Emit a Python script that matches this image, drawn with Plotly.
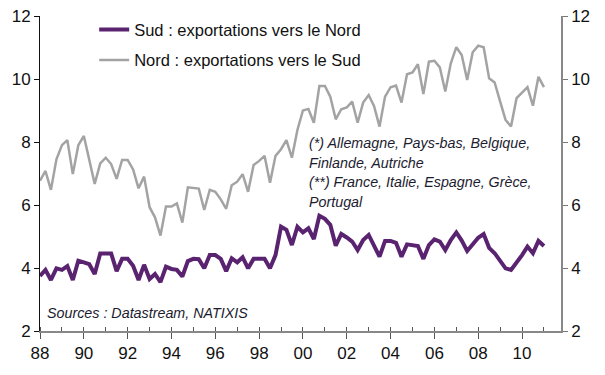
import pandas as pd
import plotly.graph_objects as go

# Quarterly data, 1988Q1 - 2011Q1
start_quarter = "1988-01-01"
n_quarters = 93
quarters = pd.date_range(start_quarter, periods=n_quarters, freq="QS")

sud_vers_nord = [
    3.75, 3.94, 3.62, 3.99, 3.94, 4.06, 3.62, 4.23, 4.18, 4.12,
    3.81, 4.46, 4.46, 4.46, 3.90, 4.29, 4.29, 4.07, 3.62, 4.10,
    3.65, 3.81, 3.55, 4.04, 3.97, 3.94, 3.73, 4.22, 4.29, 4.28,
    3.99, 4.41, 4.41, 4.29, 3.90, 4.31, 4.18, 4.34, 3.99, 4.29,
    4.29, 4.29, 3.99, 4.41, 5.31, 5.21, 4.73, 5.31, 5.13, 5.26,
    4.92, 5.66, 5.56, 5.37, 4.71, 5.08, 4.97, 4.84, 4.57, 4.89,
    5.05, 4.68, 4.36, 4.86, 4.86, 4.80, 4.36, 4.75, 4.71, 4.70,
    4.29, 4.73, 4.91, 4.84, 4.57, 4.89, 5.13, 4.87, 4.54, 4.75,
    4.96, 5.08, 4.64, 4.47, 4.23, 3.99, 3.94, 4.17, 4.41, 4.68,
    4.47, 4.86, 4.70,
]

nord_vers_sud = [
    6.77, 7.08, 6.48, 7.45, 7.90, 8.06, 6.98, 7.90, 8.19, 7.43,
    6.67, 7.32, 7.50, 7.30, 6.83, 7.43, 7.43, 7.13, 6.53, 6.90,
    5.93, 5.61, 5.03, 5.95, 5.95, 6.05, 5.44, 6.56, 6.53, 6.52,
    5.84, 6.48, 6.42, 6.18, 5.88, 6.63, 6.74, 6.98, 6.42, 7.27,
    7.40, 7.56, 6.71, 7.56, 7.77, 8.06, 7.50, 8.38, 9.00, 9.05,
    8.61, 9.78, 9.78, 9.44, 8.72, 9.04, 9.10, 9.28, 8.61, 9.25,
    9.49, 9.14, 8.49, 9.44, 9.74, 9.79, 9.25, 10.15, 10.21, 10.47,
    9.52, 10.55, 10.58, 10.37, 9.60, 10.50, 11.01, 10.76, 9.97, 10.85,
    11.06, 11.01, 10.02, 9.89, 9.28, 8.70, 8.49, 9.39, 9.57, 9.74,
    9.15, 10.07, 9.74,
]

sud_name = "Sud : exportations vers le Nord"
nord_name = "Nord : exportations vers le Sud"

note_lines = [
    "(*) Allemagne, Pays-bas, Belgique,",
    "Finlande, Autriche",
    "(**) France, Italie, Espagne, Grèce,",
    "Portugal",
]
source_text = "Sources : Datastream, NATIXIS"

FONT = "Arial, 'Liberation Sans', sans-serif"
PURPLE = "#5a2370"
GRAY = "#a3a3a3"
TEXT = "#1c1c30"

fig = go.Figure()
fig.add_trace(go.Scatter(
    x=quarters, y=sud_vers_nord, name=sud_name, mode="lines",
    line=dict(color=PURPLE, width=4), legendgroup="a",
))
fig.add_trace(go.Scatter(
    x=quarters, y=nord_vers_sud, name=nord_name, mode="lines",
    line=dict(color=GRAY, width=2.5), legendgroup="b", yaxis="y2",
))

fig.update_layout(
    width=605, height=375,
    margin=dict(l=32, r=52, t=8, b=52, autoexpand=False),
    paper_bgcolor="white", plot_bgcolor="white",
    font=dict(family=FONT, color="#111", size=17),
    showlegend=True,
    legend=dict(
        x=0.104, y=1.012, xanchor="left", yanchor="top",
        bgcolor="rgba(0,0,0,0)", font=dict(size=16.5, color="#111"),
        traceorder="grouped", tracegroupgap=6,
    ),
    xaxis=dict(
        type="date", automargin=False,
        range=["1988-01-01", "2011-10-12"],
        tickformat="%y", dtick="M24", tick0="1988-01-01",
        ticks="outside", ticklen=6, tickcolor="#555", tickwidth=1,
        showline=True, linecolor="#888", linewidth=1.5,
        showgrid=False, zeroline=False, ticklabeloverflow="allow",
        minor=dict(dtick="M12", tick0="1988-01-01", ticks="inside",
                   ticklen=4, tickcolor="#555", showgrid=False),
        tickfont=dict(size=17),
    ),
    yaxis=dict(
        range=[2, 12], dtick=2, automargin=False,
        ticks="outside", ticklen=5, tickcolor="#111",
        showline=True, linecolor="#111", linewidth=1,
        showgrid=False, zeroline=False, ticklabeloverflow="allow",
        tickfont=dict(size=17),
    ),
    yaxis2=dict(
        range=[2, 12], dtick=2, overlaying="y", side="right", automargin=False,
        ticks="outside", ticklen=5, tickcolor="#777",
        showline=True, linecolor="#888", linewidth=1.5,
        showgrid=False, zeroline=False, ticklabeloverflow="allow",
        tickfont=dict(size=17),
    ),
)

# Notes (italic)
note_y0 = 143
for i, line in enumerate(note_lines):
    fig.add_annotation(
        text=line, xref="paper", yref="paper",
        x=(307 - 40) / 521, y=1 - (note_y0 + 19.5 * i - 16) / 315,
        xanchor="left", yanchor="middle", showarrow=False,
        font=dict(family=FONT, size=14.3, color=TEXT, style="italic"),
    )

fig.add_annotation(
    text=source_text, xref="paper", yref="paper",
    x=(45 - 40) / 521, y=1 - (313 - 16) / 315,
    xanchor="left", yanchor="middle", showarrow=False,
    font=dict(family=FONT, size=14.3, color=TEXT, style="italic"),
)

fig.write_html("out.html")
